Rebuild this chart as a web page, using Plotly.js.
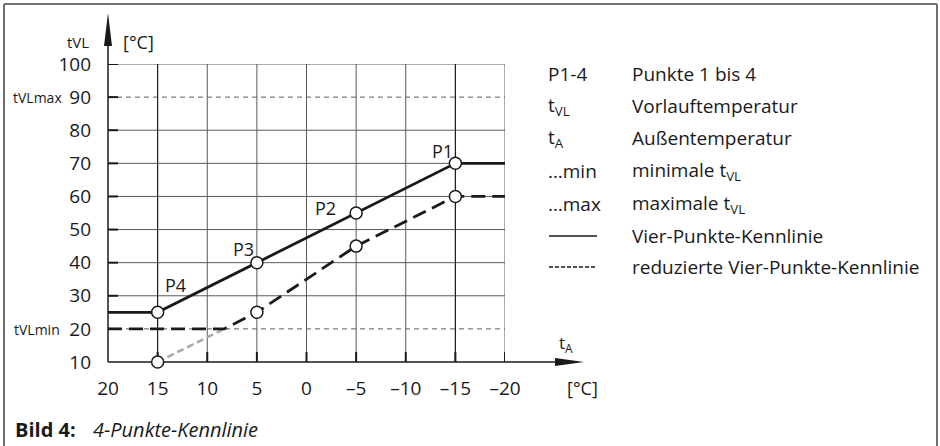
<!DOCTYPE html>
<html>
<head>
<meta charset="utf-8">
<script src="https://cdn.plot.ly/plotly-3.0.1.min.js"></script>
<style>html,body{margin:0;padding:0;background:#fff;}#chart{width:940px;height:446px;}</style>
</head>
<body>
<div id="chart"></div>
<script>
// ---- data ----
const xTickVals = [20, 15, 10, 5, 0, -5, -10, -15, -20];
const xTickText = ["20", "15", "10", "5", "0", "–5", "–10", "–15", "–20"];
const yTickVals = [10, 20, 30, 40, 50, 60, 70, 80, 90, 100];
const yTickText = ["10", "20", "30", "40", "50", "60", "70", "80", "90", "100"];
const gridSolidY = [30, 40, 50, 60, 70, 80, 100];
const gridDashedY = [20, 90];
const gridX = [10, 5, 0, -5, -10, -20];
const gridDarkX = [15, -15];

const curveX = [20, 15, 5, -5, -15, -20];
const curveY = [25, 25, 40, 55, 70, 70];
const reducedX = [20, 8.3, 5, -5, -15, -20];
const reducedY = [20, 20, 25, 45, 60, 60];
const greyX = [15, 8.3];
const greyY = [10, 20];
const pointX = [-15, -5, 5, 15];
const pointY = [70, 55, 40, 25];
const pointNames = ["P1", "P2", "P3", "P4"];
const redPointX = [15, 5, -5, -15];
const redPointY = [10, 25, 45, 60];

const legendKeys = ["P1-4", "t<sub>VL</sub>", "t<sub>A</sub>", "…min", "…max"];
const legendTexts = ["Punkte 1 bis 4", "Vorlauftemperatur", "Außentemperatur",
  "minimale t<sub>VL</sub>", "maximale t<sub>VL</sub>", "Vier-Punkte-Kennlinie",
  "reduzierte Vier-Punkte-Kennlinie"];

// ---- geometry ----
const W = 940, H = 446;
const M = {l: 108, r: 435, t: 64, b: 84};
const PW = W - M.l - M.r, PH = H - M.t - M.b;
const px = v => (v - M.l) / PW;          // pixel -> paper x
const py = v => (H - M.b - v) / PH;      // pixel -> paper y

const FONT = "Open Sans, Noto Sans, sans-serif";
const INK = "#1a1a1a";
const GRID = "#5a5a5a";

const shapes = [];
// grid (below traces so markers hide it)
gridSolidY.forEach(v => shapes.push({type: "line", layer: "below", xref: "x", yref: "y", x0: 20, x1: -20, y0: v, y1: v, line: {color: GRID, width: 1}}));
gridDashedY.forEach(v => shapes.push({type: "line", layer: "below", xref: "x", yref: "y", x0: 20, x1: -20, y0: v, y1: v, line: {color: GRID, width: 1, dash: "5px,4px"}}));
gridX.forEach(v => shapes.push({type: "line", layer: "below", xref: "x", yref: "y", x0: v, x1: v, y0: 10, y1: 100, line: {color: GRID, width: 1}}));
gridDarkX.forEach(v => shapes.push({type: "line", layer: "below", xref: "x", yref: "y", x0: v, x1: v, y0: 10, y1: 100, line: {color: INK, width: 1.2}}));
// crossing ticks
xTickVals.forEach(v => { if (v !== 20) shapes.push({type: "line", layer: "below", xref: "x", yref: "y", ysizemode: "pixel", yanchor: 10, x0: v, x1: v, y0: -10, y1: 10, line: {color: INK, width: 2}}); });
yTickVals.forEach(v => { if (v !== 10) shapes.push({type: "line", layer: "below", xref: "x", yref: "y", xsizemode: "pixel", xanchor: 20, y0: v, y1: v, x0: -8, x1: 10, line: {color: INK, width: 2}}); });
// axes with arrows
shapes.push({type: "line", layer: "below", xref: "paper", yref: "paper", x0: 0, x1: px(560), y0: 0, y1: 0, line: {color: INK, width: 1.5}});
shapes.push({type: "line", layer: "below", xref: "paper", yref: "paper", x0: 0, x1: 0, y0: 0, y1: py(40), line: {color: INK, width: 1.5}});
shapes.push({type: "path", xref: "paper", yref: "paper", fillcolor: INK, line: {width: 0},
  path: `M ${px(555)} ${py(358)} L ${px(584)} ${py(362)} L ${px(555)} ${py(366)} Z`});
shapes.push({type: "path", xref: "paper", yref: "paper", fillcolor: INK, line: {width: 0},
  path: `M ${px(104)} ${py(46)} L ${px(108)} ${py(13)} L ${px(112)} ${py(46)} Z`});
// frame
shapes.push({type: "line", xref: "paper", yref: "paper", x0: px(4), x1: px(937), y0: py(4), y1: py(4), line: {color: "#707070", width: 2}});
shapes.push({type: "line", xref: "paper", yref: "paper", x0: px(4), x1: px(4), y0: py(4), y1: py(446), line: {color: "#707070", width: 2}});
shapes.push({type: "line", xref: "paper", yref: "paper", x0: px(937), x1: px(937), y0: py(4), y1: py(446), line: {color: "#707070", width: 2}});
// legend samples
const rowY = [74, 106, 138, 171, 204, 236, 267];
shapes.push({type: "line", xref: "paper", yref: "paper", x0: px(549), x1: px(597), y0: py(rowY[5]), y1: py(rowY[5]), line: {color: INK, width: 1.3}});
shapes.push({type: "line", xref: "paper", yref: "paper", x0: px(549), x1: px(597), y0: py(rowY[6]), y1: py(rowY[6]), line: {color: INK, width: 1.3, dash: "4px,2px"}});

const annotations = [];
const ann = (text, x, y, opts) => Object.assign({text, x, y, xref: "paper", yref: "paper", showarrow: false,
  xanchor: "left", yanchor: "middle", font: {family: FONT, size: 19, color: INK}}, opts || {});
legendKeys.forEach((t, i) => annotations.push(ann(t, px(546), py(rowY[i]))));
legendTexts.forEach((t, i) => annotations.push(ann(t, px(630), py(rowY[i]))));
// point labels
const shiftsX = [-13, -31, -13, 18], shiftsY = [12, 5, 14, 27];
pointNames.forEach((n, i) => annotations.push({text: n, x: pointX[i], y: pointY[i], xref: "x", yref: "y", showarrow: false,
  xshift: shiftsX[i], yshift: shiftsY[i], font: {family: FONT, size: 18, color: INK}}));
// axis labels
annotations.push(ann("tVL", px(91), py(42), {xanchor: "right", font: {family: FONT, size: 15, color: INK}}));
annotations.push(ann("[°C]", px(121), py(42), {font: {family: FONT, size: 18, color: INK}}));
annotations.push(ann("tVLmax", px(64), py(98), {xanchor: "right", font: {family: FONT, size: 14, color: INK}}));
annotations.push(ann("tVLmin", px(62), py(329), {xanchor: "right", font: {family: FONT, size: 14, color: INK}}));
annotations.push(ann("t<sub>A</sub>", px(557), py(343), {font: {family: FONT, size: 17, color: INK}}));
annotations.push(ann("[°C]", px(565), py(388), {font: {family: FONT, size: 18, color: INK}}));
// caption
annotations.push(ann("<b>Bild 4:</b>", px(13), py(430), {font: {family: FONT, size: 20, color: INK}}));
annotations.push(ann("<i>4-Punkte-Kennlinie</i>", px(91), py(430), {font: {family: FONT, size: 20, color: INK}}));

const traces = [
  {x: greyX, y: greyY, mode: "lines", line: {color: "#a8a8a8", width: 2.5, dash: "7px,4px"}, hoverinfo: "skip"},
  {x: reducedX, y: reducedY, mode: "lines", line: {color: INK, width: 2.8, dash: "14px,7px"}, hoverinfo: "skip"},
  {x: curveX, y: curveY, mode: "lines", line: {color: INK, width: 2.8}, hoverinfo: "skip"},
  {x: redPointX, y: redPointY, mode: "markers", cliponaxis: false, marker: {size: 12, color: "#fff", line: {color: INK, width: 1.5}}},
  {x: pointX, y: pointY, mode: "markers", cliponaxis: false, marker: {size: 12, color: "#fff", line: {color: INK, width: 1.5}}}
];

const layout = {
  width: W, height: H, margin: M, showlegend: false,
  paper_bgcolor: "#fff", plot_bgcolor: "#fff",
  xaxis: {range: [20, -20], tickvals: xTickVals, ticktext: xTickText, showgrid: false, zeroline: false, showline: false,
    ticks: "", ticklabelstandoff: 13, tickfont: {family: FONT, size: 19, color: INK}, fixedrange: true},
  yaxis: {range: [10, 100], tickvals: yTickVals, ticktext: yTickText, showgrid: false, zeroline: false, showline: false,
    ticks: "", ticklabelstandoff: 16, tickfont: {family: FONT, size: 19, color: INK}, fixedrange: true},
  shapes, annotations
};
Plotly.newPlot("chart", traces, layout, {displayModeBar: false, staticPlot: true});
</script>
</body>
</html>
